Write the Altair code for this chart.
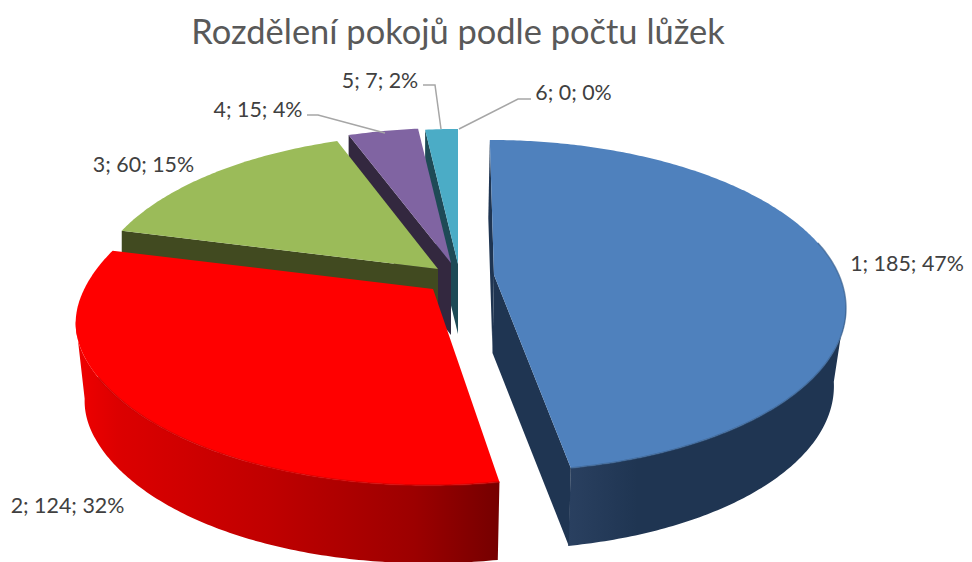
import math
import altair as alt
import pandas as pd

TITLE = "Rozdělení pokojů podle počtu lůžek"
categories = ["1", "2", "3", "4", "5", "6"]
values = [185, 124, 60, 15, 7, 0]
percents = [47, 32, 15, 4, 2, 0]

W, H = 956, 554
OFFX, OFFY = 8, 8
A, B, K = 347, 160, 0.185
total = sum(values)
XS = alt.X("x:Q", scale=alt.Scale(domain=[0, W]), axis=None)
YS = alt.Y("y:Q", scale=alt.Scale(domain=[H, 0]), axis=None)

def rim(apex, t_deg, skew=0.0, shrink=1.0, drop=0.0, bulge=0.0):
    t = math.radians(t_deg)
    X, Y = math.sin(t), -math.cos(t)
    s = 1 / (1 - K * Y)
    f = 1 + bulge * math.exp(-(((Y - 0.25) / 0.3) ** 2))
    return (apex[0] + (A * X * f + skew * Y) * s * shrink, apex[1] + B * Y * s + drop)

def arc_pts(apex, t0, t1, **kw):
    n = max(2, int(abs(t1 - t0) * 1.5))
    return [rim(apex, t0 + (t1 - t0) * i / n, **kw) for i in range(n + 1)]

starts, acc = [], 0.0
for v in values:
    starts.append(acc)
    acc += v / total * 360
ends = starts[1:] + [360.0]

apexes = [(494, 275), (433, 289), (438, 269), (451, 263), (458, 264)]
tops = ["#4F81BD", "#FF0000", "#9BBB59", "#8064A2", "#4BACC6"]
sides = ["#1F3552", "#7F0000", "#414A20", "#33283F", "#1E4A56"]
depths = [78, 78, 72, 72, 70]
skews = [5, -4, 0, 0, 0]
shrinks = [0.994, 1.0, 0.985, 1.0, 1.0]

def frame(points):
    df = pd.DataFrame(points, columns=["x", "y"])
    df["x"] -= OFFX
    df["y"] -= OFFY
    df["i"] = range(len(df))
    return df

def poly(points, fill):
    return alt.Chart(frame(points)).mark_line(
        filled=True, fill=fill, stroke=None, interpolate="linear-closed", clip=False
    ).encode(x=XS, y=YS, order="i:Q")

def edge(points, color, width, opacity=1.0):
    return alt.Chart(frame(points)).mark_line(
        color=color, strokeWidth=width, opacity=opacity, clip=False
    ).encode(x=XS, y=YS, order="i:Q")

def grad(stops):
    return alt.Gradient(
        gradient="linear", x1=0, x2=1, y1=0, y2=0,
        stops=[alt.GradientStop(color=c, offset=o) for o, c in stops],
    )

layers = []
# painter's order: back slices first
for idx in [4, 3, 2]:
    a = apexes[idx]
    d = depths[idx]
    sh = shrinks[idx]
    p0 = rim(a, starts[idx], shrink=sh)
    layers.append(poly([p0, a, (a[0], a[1] + d), (p0[0], p0[1] + d)], sides[idx]))
    layers.append(poly([a] + arc_pts(a, starts[idx], ends[idx], shrink=sh), tops[idx]))

# red slice
a = apexes[1]
d = depths[1]
BULGE = 0.01
rk = dict(bulge=BULGE, skew=skews[1])
top = arc_pts(a, starts[1], 259, **rk)
bot = arc_pts(a, starts[1], 259, shrink=0.975, drop=d, **rk)
layers.append(poly(top + bot[::-1], grad([
    (0, "#F00000"), (0.1, "#DC0000"), (0.45, "#C00000"), (0.8, "#9C0000"), (1, "#750000")
])))
layers.append(poly([a] + arc_pts(a, starts[1], ends[1], **rk), tops[1]))
layers.append(edge(arc_pts(a, starts[1], 240, **rk), "#C80000", 2, 0.6))

# blue slice
a = apexes[0]
d = depths[0]
sk = skews[0]
sh = shrinks[0]
p0 = rim(a, starts[0], skew=sk, shrink=sh)
p1 = rim(a, ends[0], skew=sk, shrink=sh)
layers.append(poly([p0, a, (a[0] - 1.5, a[1] + d), (p0[0] - 1.5, p0[1] + d)], sides[0]))
top = arc_pts(a, 100, ends[0], skew=sk, shrink=sh)
bot = arc_pts(a, 100, ends[0], skew=sk, shrink=0.96, drop=d)
layers.append(poly(top + bot[::-1], grad([
    (0, "#2A4060"), (0.25, "#1F3552"), (1, "#1F3552")
])))
layers.append(poly([a, p1, (p1[0] - 2, p1[1] + d), (a[0] - 1.5, a[1] + d)], sides[0]))
layers.append(poly([a] + arc_pts(a, starts[0], ends[0], skew=sk, shrink=sh), tops[0]))
layers.append(edge(arc_pts(a, 78, ends[0], skew=sk, shrink=sh), "#3A6292", 1.5, 0.7))

# leader lines
leaders = {
    "4": [(307, 115), (318, 115), (385, 133)],
    "5": [(423, 85), (435, 85), (441, 129)],
    "6": [(531, 99), (518, 99), (459, 129)],
}
rows = []
for key, pts in leaders.items():
    for i, (x, y) in enumerate(pts):
        rows.append({"k": key, "i": i, "x": x - OFFX, "y": y - OFFY})
layers.append(alt.Chart(pd.DataFrame(rows)).mark_line(color="#A6A6A6", strokeWidth=1.5).encode(
    x=XS, y=YS, detail="k:N", order="i:Q",
))

# labels
label_pos = [(907, 265), (67.5, 507), (143.5, 166), (258, 111), (380, 82), (573.5, 94)]
lab = pd.DataFrame({
    "t": [f"{c}; {v}; {p}%" for c, v, p in zip(categories, values, percents)],
    "x": [p[0] - OFFX for p in label_pos],
    "y": [p[1] - OFFY for p in label_pos],
})
layers.append(alt.Chart(lab).mark_text(font="Lato", fontSize=21.4, color="#404040", align="center", baseline="middle").encode(
    x=XS, y=YS, text="t:N",
))
ttl = pd.DataFrame({"t": [TITLE], "x": [458 - OFFX], "y": [34 - OFFY]})
layers.append(alt.Chart(ttl).mark_text(font="Lato", fontSize=34.45, color="#595959", align="center", baseline="middle").encode(
    x=XS, y=YS, text="t:N",
))

chart = alt.layer(*layers).properties(
    width=W, height=H, padding=0, autosize=alt.AutoSizeParams(type="none"),
).configure_view(stroke=None)
chart.save("out.html", embed_options={"renderer": "svg", "actions": False})
